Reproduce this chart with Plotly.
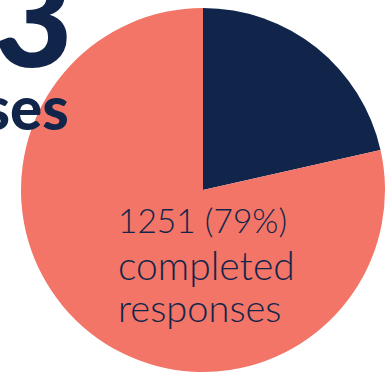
import plotly.graph_objects as go

labels = ["Incomplete responses", "Completed responses"]
values = [342, 1251]
colors = ["#11254b", "#f27567"]
total = sum(values)
completed = values[1]
pct = round(completed / total * 100)
label_lines = [f"{completed} ({pct}%)", "completed", "responses"]
headline = [f"{total}", "responses"]

W, H = 385, 373
L, R, T, B = 21, 0, 8, 1
PW, PH = W - L - R, H - T - B

def px(x):
    return (x - L) / PW

def py(y):
    return 1 - (y - T) / PH

fig = go.Figure(go.Pie(
    labels=labels,
    values=values,
    sort=False,
    direction="clockwise",
    rotation=0,
    marker=dict(colors=colors, line=dict(width=0)),
    textinfo="none",
    hoverinfo="label+value+percent",
    showlegend=False,
))

navy = "#11254b"
line_specs = [(116, 198, 33.5), (116, 240, 39), (116, 282, 38)]
for txt, (x0, y0, s) in zip(label_lines, line_specs):
    fig.add_annotation(
        x=px(x0), y=py(y0), xref="paper", yref="paper",
        xanchor="left", yanchor="top", align="left", showarrow=False,
        text=txt,
        font=dict(family="Lato", size=s, color=navy, weight=300),
    )

fig.add_annotation(
    x=px(75), y=py(98), xref="paper", yref="paper",
    xanchor="right", yanchor="bottom", showarrow=False,
    text=headline[0],
    font=dict(family="Lato", size=136, color=navy, weight=900),
)
fig.add_annotation(
    x=px(71), y=py(145), xref="paper", yref="paper",
    xanchor="right", yanchor="bottom", showarrow=False,
    text=headline[1],
    font=dict(family="Lato", size=60, color=navy, weight=900),
)

fig.update_layout(
    width=W, height=H,
    margin=dict(l=L, r=R, t=T, b=B, pad=0),
    paper_bgcolor="white",
    plot_bgcolor="white",
)
fig.write_html(
    "out.html",
    config={"displayModeBar": False},
    post_script="document.body.style.margin='0';document.body.style.overflow='hidden';",
)
